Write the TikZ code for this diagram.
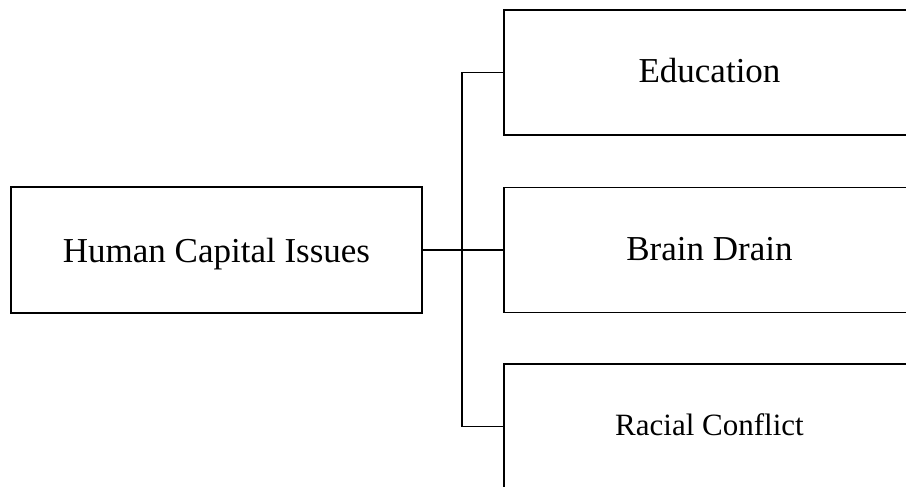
\documentclass[tikz,border=0pt]{standalone}
\usepackage{fontspec}
\setmainfont{Liberation Serif}
\begin{document}
\begin{tikzpicture}[x=1pt,y=-1pt,
  box/.style={draw=black, line width=1.8pt, rectangle, minimum width=411pt,
    minimum height=125pt, inner sep=0pt, text height=21pt, text depth=0pt,
    font=\fontsize{35}{42}\selectfont},
  link/.style={draw=black, line width=1.8pt}]
\useasboundingbox (0,0) rectangle (906,487);
\clip (0,0) rectangle (906,487);
\node[box, minimum height=125.5pt, text height=24pt] (L) at (216.5,250) {Human Capital Issues};
\node[box] (E) at (709.5,72.5) {Education};
\node[box] (B) at (709.5,250) {Brain Drain};
\node[box, font=\fontsize{31}{37}\selectfont, text height=17pt] (R) at (709.5,426.5) {Racial Conflict};
\draw[link] (L.east) -- (B.west);
\draw[link] (E.west) -- ++(-41,0) |- (R.west);
\end{tikzpicture}
\end{document}
